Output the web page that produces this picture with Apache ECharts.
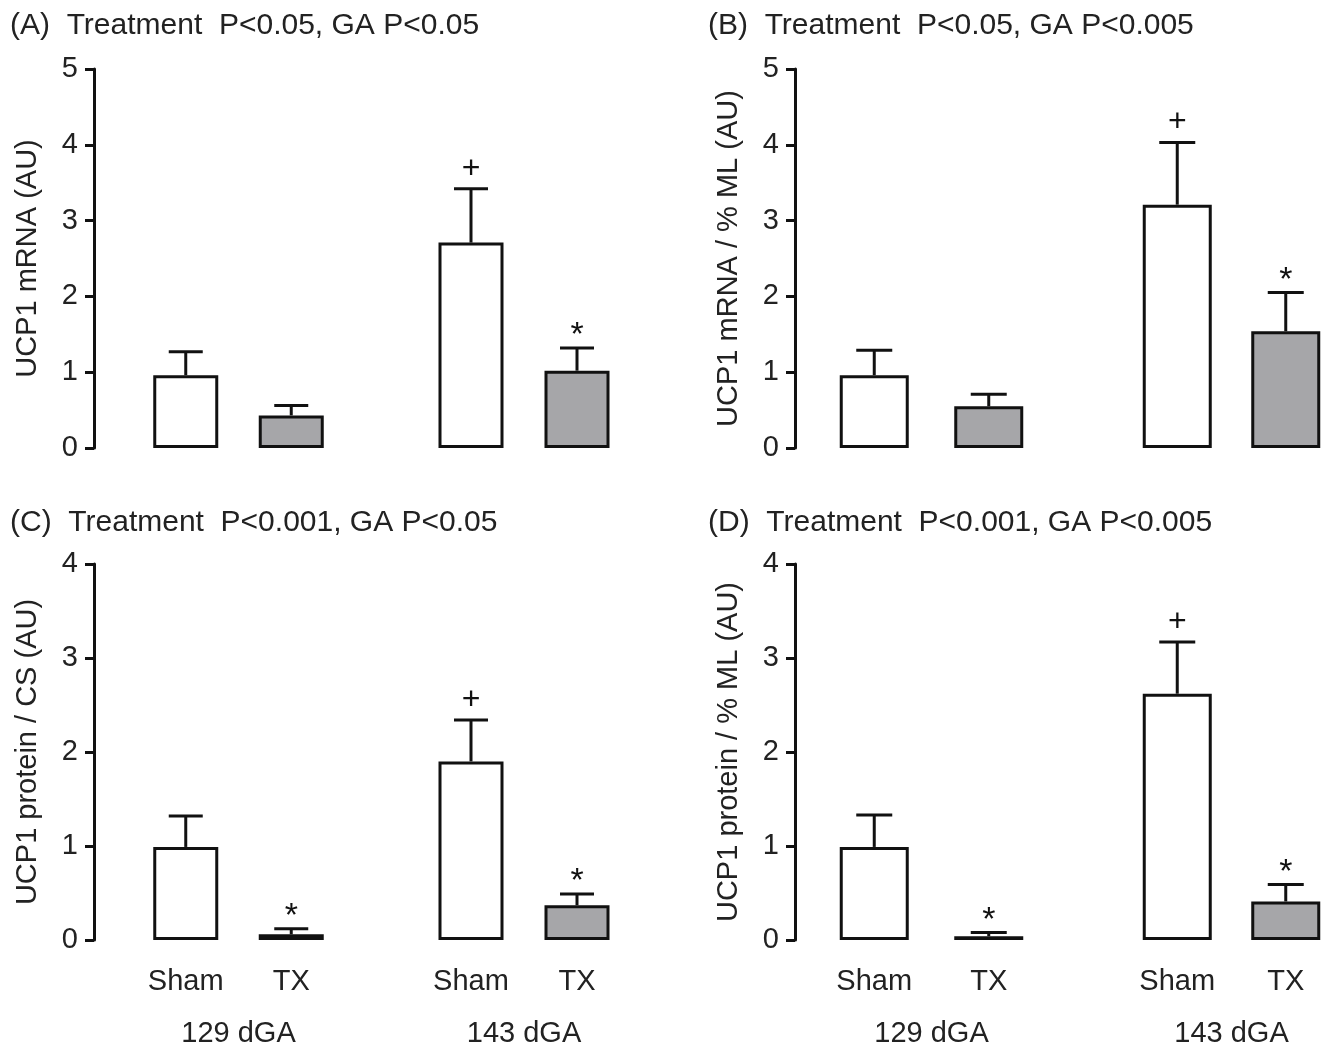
<!DOCTYPE html>
<html><head><meta charset="utf-8">
<script src="https://cdn.jsdelivr.net/npm/echarts@6/dist/echarts.min.js"></script>
<style>html,body{margin:0;padding:0;background:#fff}#c{width:1340px;height:1049px}</style>
</head><body><div id="c"></div>
<script>
// ---- data ----
const groups = ['129 dGA', '143 dGA'];
const treatments = ['Sham', 'TX'];
const panelTitles = [
  '(A)  Treatment  P<0.05, GA P<0.05',
  '(B)  Treatment  P<0.05, GA P<0.005',
  '(C)  Treatment  P<0.001, GA P<0.05',
  '(D)  Treatment  P<0.001, GA P<0.005'
];
const yAxisNames = ['UCP1 mRNA (AU)', 'UCP1 mRNA / % ML (AU)', 'UCP1 protein / CS (AU)', 'UCP1 protein / % ML (AU)'];
const yMaxes = [5, 5, 4, 4];
// order: 129 Sham, 129 TX, 143 Sham, 143 TX
const meanA = [0.96, 0.43, 2.71, 1.02];
const semA  = [0.31, 0.13, 0.71, 0.30];
const marksA = ['', '', '+', '*'];
const meanB = [0.96, 0.55, 3.21, 1.54];
const semB  = [0.33, 0.16, 0.82, 0.51];
const marksB = ['', '', '+', '*'];
const meanC = [0.99, 0.06, 1.90, 0.37];
const semC  = [0.33, 0.06, 0.44, 0.12];
const marksC = ['', '*', '+', '*'];
const meanD = [0.99, 0.04, 2.62, 0.41];
const semD  = [0.34, 0.04, 0.55, 0.18];
const marksD = ['', '*', '+', '*'];

const means = [meanA, meanB, meanC, meanD];
const sems = [semA, semB, semC, semD];
const marks = [marksA, marksB, marksC, marksD];

// ---- layout ----
const FONT = "'Liberation Sans', Arial, sans-serif";
const TXT = '#222';
const LINE = '#111';
const FILLS = ['#ffffff', '#a6a6a9'];
const layouts = [
  {axisX: 94,  g: [{left: 133, width: 211}, {left: 418, width: 212}], top: 69,  height: 379, bw: 65, cap: 34, tx: 10,  ty: 11,  bottom: false},
  {axisX: 795, g: [{left: 817, width: 229}, {left: 1123, width: 227}], top: 69, height: 379, bw: 69, cap: 36, tx: 708, ty: 11,  bottom: false},
  {axisX: 94,  g: [{left: 133, width: 211}, {left: 418, width: 212}], top: 564, height: 380, bw: 65, cap: 34, tx: 10,  ty: 508, bottom: true},
  {axisX: 795, g: [{left: 817, width: 229}, {left: 1123, width: 227}], top: 564, height: 380, bw: 69, cap: 36, tx: 708, ty: 508, bottom: true}
];

const title = [], grid = [], xAxis = [], yAxis = [], series = [];
layouts.forEach((L, p) => {
  title.push({text: panelTitles[p], left: L.tx, top: L.ty, padding: 0,
    textStyle: {fontFamily: FONT, fontSize: 30, fontWeight: 'normal', color: TXT}});
  for (let gi = 0; gi < 2; gi++) {
    const idx = grid.length;
    grid.push({left: L.g[gi].left, width: L.g[gi].width, top: L.top, height: L.height, containLabel: false});
    xAxis.push({type: 'category', gridIndex: idx, data: treatments,
      axisLine: {show: false}, axisTick: {show: false}, splitLine: {show: false},
      axisLabel: {show: L.bottom, fontFamily: FONT, fontSize: 29, color: TXT, margin: 27},
      name: L.bottom ? groups[gi] : '', nameLocation: 'middle', nameGap: 79,
      nameTextStyle: {fontFamily: FONT, fontSize: 29, color: TXT}});
    const first = gi === 0;
    yAxis.push({type: 'value', gridIndex: idx, min: 0, max: yMaxes[p], interval: 1,
      show: first, offset: first ? (L.g[0].left - L.axisX) : 0,
      axisLine: {show: true, lineStyle: {color: LINE, width: 3}},
      axisTick: {show: true, length: 9, lineStyle: {color: LINE, width: 3}},
      axisLabel: {fontFamily: FONT, fontSize: 29, color: TXT, margin: 16},
      splitLine: {show: false},
      name: first ? yAxisNames[p] : '', nameLocation: 'middle', nameGap: 52,
      nameTextStyle: {fontFamily: FONT, fontSize: 29, color: TXT}});
    const m = means[p].slice(gi * 2, gi * 2 + 2);
    const s = sems[p].slice(gi * 2, gi * 2 + 2);
    const mk = marks[p].slice(gi * 2, gi * 2 + 2);
    series.push({type: 'bar', xAxisIndex: idx, yAxisIndex: idx, barWidth: L.bw, silent: true,
      data: m.map((v, i) => ({value: v, itemStyle: {color: FILLS[i], borderColor: LINE, borderWidth: 3}}))});
    const capW = L.cap;
    series.push({type: 'custom', xAxisIndex: idx, yAxisIndex: idx, silent: true, clip: false, z: 5,
      data: m.map((v, i) => [i, v, v + s[i]]),
      renderItem: function (params, api) {
        const i = api.value(0);
        const base = api.coord([i, api.value(1)]);
        const top = api.coord([i, api.value(2)]);
        const mark = mk[params.dataIndex];
        const children = [
          {type: 'line', shape: {x1: base[0], y1: base[1], x2: top[0], y2: top[1]}, style: {stroke: LINE, lineWidth: 3}},
          {type: 'line', shape: {x1: top[0] - capW / 2, y1: top[1], x2: top[0] + capW / 2, y2: top[1]}, style: {stroke: LINE, lineWidth: 3}}
        ];
        if (mark) {
          const star = mark === '*';
          children.push({type: 'text', x: top[0], y: top[1] - (star ? 12 : 20),
            style: {text: mark, fontFamily: FONT, fontSize: star ? 34 : 32, fill: LINE, align: 'center', verticalAlign: 'middle'}});
        }
        return {type: 'group', children: children};
      }});
  }
});

const chart = echarts.init(document.getElementById('c'), null, {renderer: 'canvas'});
chart.setOption({animation: false, backgroundColor: '#fff', title, grid, xAxis, yAxis, series});
</script>
</body></html>
